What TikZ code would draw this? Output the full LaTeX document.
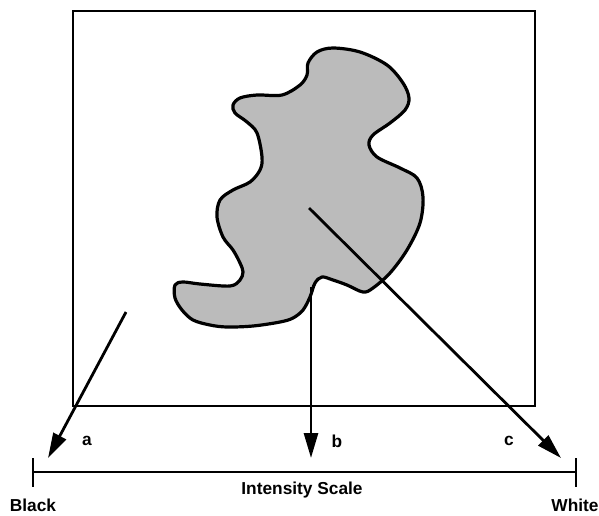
\documentclass[tikz,border=0pt]{standalone}
\usepackage{fontspec}
\setmainfont{Liberation Sans}
\usetikzlibrary{arrows.meta}
\definecolor{blobgray}{RGB}{187,187,187}
\begin{document}
\begin{tikzpicture}[x=1pt,y=-1pt,
  frame/.style={line width=2.8pt},
  blob/.style={line width=3.2pt,fill=blobgray,line join=round},
  arr/.style={line width=2.8pt,-{Triangle[length=25pt,width=14pt]}},
  lbl/.style={font=\fontsize{17.3}{20}\selectfont\bfseries,inner sep=0pt}]
\useasboundingbox (0,0) rectangle (599,515);
\draw[frame] (73,11) rectangle (535,406);
\draw[blob] plot[smooth cycle,tension=0.55] coordinates {
 (333,48) (360,52) (387,65) (403,83) (409,98) (405,110) (390,123) (373,135)
 (369,145) (377,157) (400,168) (417,178) (423,197) (420,223) (407,250) (390,273)
 (373,288) (363,292) (347,285) (333,280) (322,277) (315,283) (310,297) (303,310)
 (293,318) (280,322) (253,326) (227,327) (210,325) (193,320) (182,310) (175,298)
 (175,285) (183,282) (200,284) (230,286) (240,280) (243,272) (240,263) (233,250)
 (223,237) (217,217) (220,200) (233,190) (250,182) (260,170) (262,157) (257,133)
 (247,122) (235,113) (233,105) (240,98) (257,95) (282,95) (300,85) (307,75)
 (308,63) (317,52)};
\coordinate (sa) at (126,312);
\coordinate (sb) at (311,287);
\coordinate (sc) at (309,208);
\coordinate (ta) at (48,458);
\coordinate (tb) at (311,458);
\coordinate (tc) at (561,458);
\draw[arr] (sa) -- (ta);
\draw[arr] (sb) -- (tb);
\draw[arr] (sc) -- (tc);
\coordinate (l) at (33,472);
\coordinate (r) at (576,472);
\draw[frame] (l) -- (r);
\draw[frame] (33,458) -- (33,487);
\draw[frame] (576,458) -- (576,487);
\node[lbl] (la) at (87,441) {a};
\node[lbl] (lb) at (337,441) {b};
\node[lbl] (lc) at (509,441) {c};
\node[lbl] (black) at (33,505) {Black};
\node[lbl] (white) at (575,505) {White};
\node[lbl] (scale) at (302,490) {Intensity Scale};
\end{tikzpicture}
\end{document}
